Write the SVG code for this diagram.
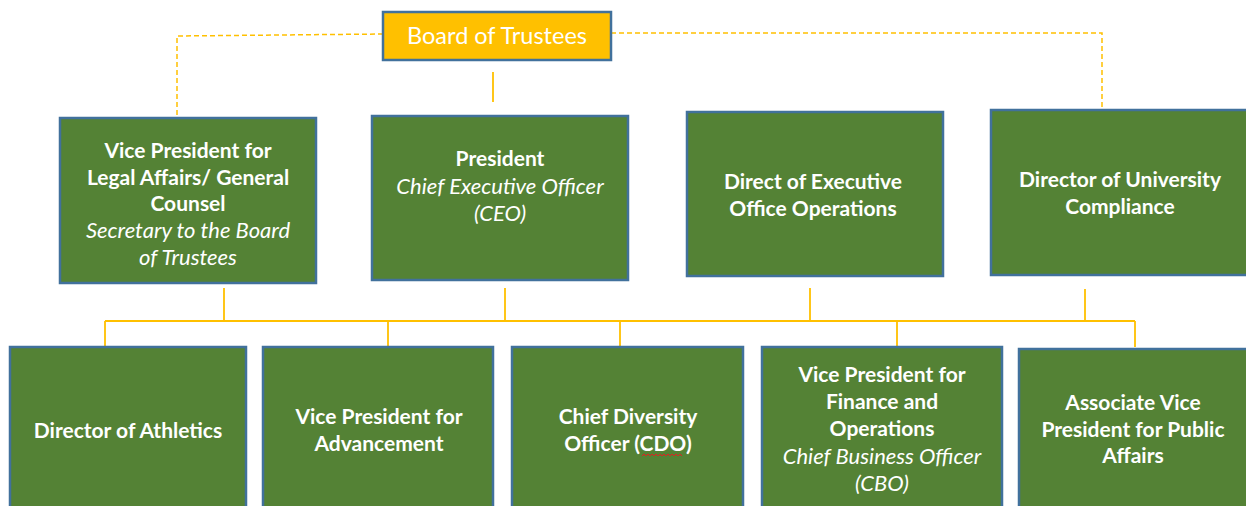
<svg xmlns="http://www.w3.org/2000/svg" width="1246" height="506" viewBox="0 0 1246 506">
<style>
.box{fill:#548235;stroke:#41719C;stroke-width:2.5}
.top{fill:#FFC000;stroke:#41719C;stroke-width:2.5}
.t{font-family:Lato,"Liberation Sans",sans-serif;font-size:21px;fill:#fff;text-anchor:middle;dominant-baseline:central}
.b{font-weight:bold}
.i{font-style:italic;font-size:22px}
.ln{stroke:#FFC000;stroke-width:1.8;fill:none}
.dash{stroke:#FFC000;stroke-width:1.5;fill:none;stroke-dasharray:5 3}
</style>
<rect width="1246" height="506" fill="#fff"/>
<g id="connectors">
<path class="dash" d="M383 34 L177 36 L177 118"/>
<path class="dash" d="M611 33 L1102 33 L1102 109"/>
<path class="ln" d="M493 72 V102"/>
<path class="ln" d="M224 288 V321 M505 288 V321 M810 288 V321 M1085 289 V321"/>
<path class="ln" d="M105 321 H1135"/>
<path class="ln" d="M105 321 V346 M388 321 V346 M620 321 V346 M897 321 V346 M1135 321 V347"/>
</g>
<g id="board">
<rect class="top" x="383" y="12" width="228" height="48"/>
<text class="t" x="497" y="35" style="font-size:23.5px">Board of Trustees</text>
</g>
<g id="vp-legal">
<rect class="box" x="60" y="118" width="256" height="165"/>
<text class="t b" x="188" y="149">Vice President for</text>
<text class="t b" x="188" y="176">Legal Affairs/ General</text>
<text class="t b" x="188" y="202">Counsel</text>
<text class="t i" x="188" y="229">Secretary to the Board</text>
<text class="t i" x="188" y="256">of Trustees</text>
</g>
<g id="president">
<rect class="box" x="372" y="116" width="256" height="164"/>
<text class="t b" x="500" y="157">President</text>
<text class="t i" x="500" y="185">Chief Executive Officer</text>
<text class="t i" x="500" y="212">(CEO)</text>
</g>
<g id="exec-office">
<rect class="box" x="687" y="112" width="256" height="164"/>
<text class="t b" x="813" y="180">Direct of Executive</text>
<text class="t b" x="813" y="207">Office Operations</text>
</g>
<g id="compliance">
<rect class="box" x="991" y="110" width="262" height="165"/>
<text class="t b" x="1120" y="178">Director of University</text>
<text class="t b" x="1120" y="205">Compliance</text>
</g>
<g id="athletics">
<rect class="box" x="10" y="347" width="236" height="170"/>
<text class="t b" x="128" y="429">Director of Athletics</text>
</g>
<g id="advancement">
<rect class="box" x="263" y="347" width="230" height="170"/>
<text class="t b" x="379" y="415">Vice President for</text>
<text class="t b" x="379" y="442">Advancement</text>
</g>
<g id="diversity">
<rect class="box" x="512" y="347" width="231" height="170"/>
<text class="t b" x="628" y="415">Chief Diversity</text>
<text class="t b" x="628" y="442">Officer (CDO)</text>
<path d="M642 456 l2 -2 l2 2 l2 -2 l2 2 l2 -2 l2 2 l2 -2 l2 2 l2 -2 l2 2 l2 -2 l2 2 l2 -2 l2 2 l2 -2 l2 2 l2 -2 l2 2 l2 -2 l2 2" stroke="#E02020" stroke-width="1" fill="none"/>
</g>
<g id="finance">
<rect class="box" x="762" y="347" width="240" height="170"/>
<text class="t b" x="882" y="373">Vice President for</text>
<text class="t b" x="882" y="400">Finance and</text>
<text class="t b" x="882" y="427">Operations</text>
<text class="t i" x="882" y="455">Chief Business Officer</text>
<text class="t i" x="882" y="482">(CBO)</text>
</g>
<g id="public-affairs">
<rect class="box" x="1019" y="349" width="234" height="168"/>
<text class="t b" x="1133" y="401">Associate Vice</text>
<text class="t b" x="1133" y="428">President for Public</text>
<text class="t b" x="1133" y="454">Affairs</text>
</g>
</svg>
